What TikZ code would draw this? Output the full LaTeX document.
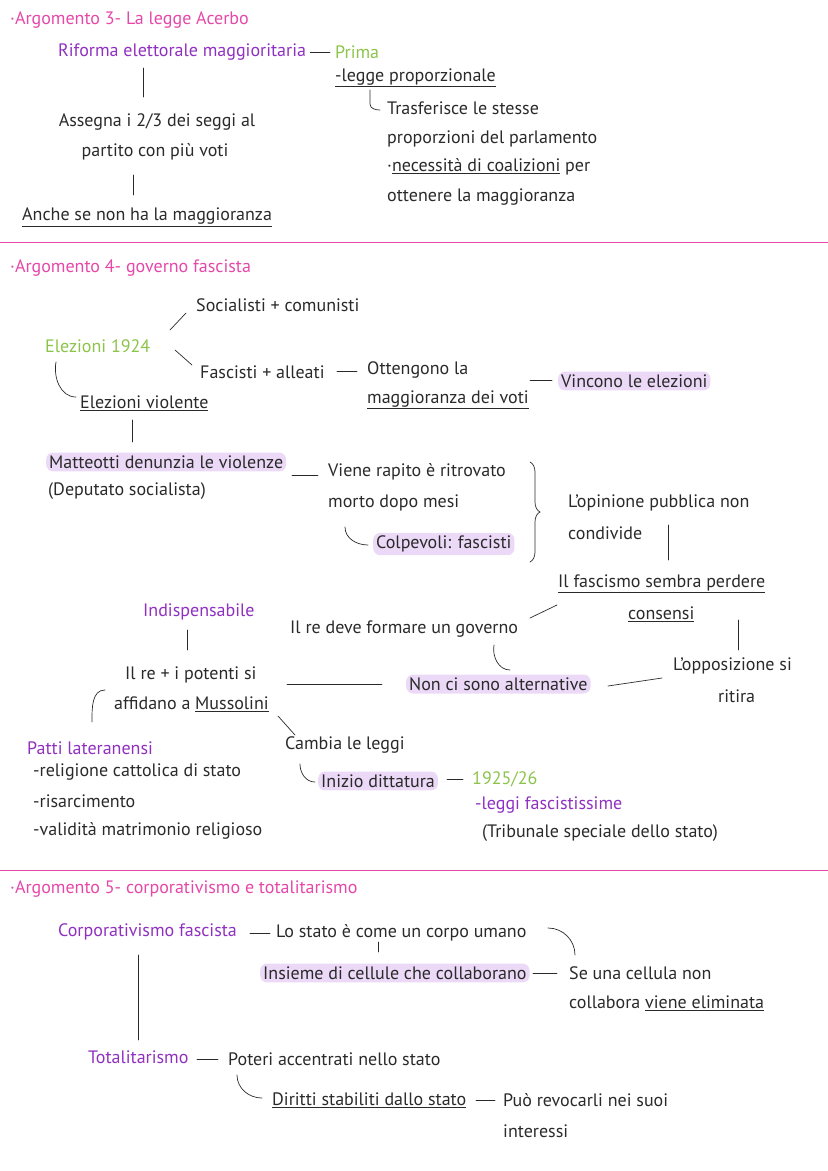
\documentclass[tikz,border=0pt]{standalone}
\usepackage{fontspec}
\setmainfont{PT Sans}
\usetikzlibrary{decorations.pathreplacing}
\definecolor{pk}{HTML}{E548A8}
\definecolor{pu}{HTML}{9030C0}
\definecolor{gr}{HTML}{8CC34A}
\definecolor{hl}{HTML}{EBD9F7}
\definecolor{ink}{HTML}{2A2A2A}
\begin{document}
\begin{tikzpicture}[x=1pt,y=-1pt,
  every node/.style={anchor=west,inner sep=0pt,font=\fontsize{18}{20}\selectfont,text=ink},
  hdr/.style={text=pk},
  pur/.style={text=pu},
  grn/.style={text=gr},
  hil/.style={fill=hl,inner xsep=3pt,inner ysep=3pt,rounded corners=7pt},
  ln/.style={draw=ink,line width=0.7pt,line cap=round},
  sep/.style={draw=pk,line width=0.8pt}]
\useasboundingbox (0,0) rectangle (828,1171);
% Section 1
\node[hdr] (h3) at (10,20) {·Argomento 3- La legge Acerbo};
\node[pur] (rif) at (58,52) {Riforma elettorale maggioritaria};
\node[grn] (prima) at (335,52) {Prima};
\draw[ln] ([xshift=4pt]rif.east) -- ([xshift=-5pt]prima.west);
\node (lp) at (335,78) {\underline{-legge proporzionale}};
\draw[ln] (370,90) -- (370,104) to[out=-90,in=180] (380,110);
\node (t1) at (387,108) {Trasferisce le stesse};
\node (t2) at (387,139) {proporzioni del parlamento};
\node (t3) at (387,167) {·\underline{necessità di coalizioni} per};
\node (t4) at (387,197) {ottenere la maggioranza};
\draw[ln] (143,68) -- (143,97);
\node[anchor=center] (as1) at (157,122) {Assegna i 2/3 dei seggi al};
\node[anchor=center] (as2) at (155,152) {partito con più voti};
\draw[ln] (133,175) -- (133,195);
\node (anc) at (22,217) {\underline{Anche se non ha la maggioranza}};
\draw[sep] (0,242) -- (828,242);
% Section 2
\node[hdr] (h4) at (10,268) {·Argomento 4- governo fascista};
\node (soc) at (196,305) {Socialisti + comunisti};
\node[grn] (el) at (45,346) {Elezioni 1924};
\draw[ln] (170,330) -- (186,313);
\draw[ln] (175,350) -- (192,365);
\node (fas) at (200,372) {Fascisti + alleati};
\node (ott1) at (367,370) {Ottengono la};
\draw[ln] (337,371) -- (357,371);
\node (ott2) at (367,400) {\underline{maggioranza dei voti}};
\node[hil] (vin) at (558,381) {Vincono le elezioni};
\draw[ln] (530,380) -- (552,380);
\draw[ln] (56,362) to[out=-100,in=180] (76,397);
\node (ev) at (80,403) {\underline{Elezioni violente}};
\draw[ln] (132,420) -- (132,442);
\node[hil] (mat) at (46,462) {Matteotti denunzia le violenze};
\node (dep) at (48,491) {(Deputato socialista)};
\draw[ln] (292,475) -- (318,475);
\node (vr1) at (328,472) {Viene rapito è ritrovato};
\node (vr2) at (328,503) {morto dopo mesi};
\draw[ln] (345,527) to[out=-90,in=180] (368,545);
\node[hil] (col) at (373,544) {Colpevoli: fascisti};
\draw[ln,decorate,decoration={brace,amplitude=10pt}] (530,462) -- (530,562);
\node (op1) at (568,503) {L’opinione pubblica non};
\node (op2) at (568,533) {condivide};
\draw[ln] (668,525) -- (668,560);
\node (fs1) at (558,584) {\underline{Il fascismo sembra perdere}};
\node (fs2) at (628,614) {\underline{consensi}};
\draw[ln] (738,620) -- (738,650);
\node (opp1) at (673,666) {L’opposizione si};
\node (opp2) at (718,696) {ritira};
\draw[ln] (608,686) -- (662,678);
\node[hil] (non) at (406,684) {Non ci sono alternative};
\node (re) at (290,629) {Il re deve formare un governo};
\draw[ln] (530,618) -- (557,605);
\draw[ln] (494,645) to[out=-100,in=180] (510,670);
\node[pur] (ind) at (143,612) {Indispensabile};
\draw[ln] (187,630) -- (187,650);
\node (rp1) at (125,675) {Il re + i potenti si};
\node (rp2) at (114,704) {affidano a \underline{Mussolini}};
\draw[ln] (287,684) -- (382,684);
\draw[ln] (105,690) to[out=180,in=90] (92,722);
\node[pur] (pat) at (27,748) {Patti lateranensi};
\node (p1) at (33,772) {-religione cattolica di stato};
\node (p2) at (33,801) {-risarcimento};
\node (p3) at (33,831) {-validità matrimonio religioso};
\draw[ln] (278,716) -- (295,735);
\node (cam) at (285,745) {Cambia le leggi};
\draw[ln] (300,764) to[out=-90,in=180] (315,782);
\node[hil] (ini) at (318,781) {Inizio dittatura};
\draw[ln] (447,779) -- (463,779);
\node[grn] (y25) at (472,779) {1925/26};
\node[pur] (lf) at (475,805) {-leggi fascistissime};
\node (trib) at (482,833) {(Tribunale speciale dello stato)};
\draw[sep] (0,870) -- (828,870);
% Section 3
\node[hdr] (h5) at (10,889) {·Argomento 5- corporativismo e totalitarismo};
\node[pur] (cor) at (58,932) {Corporativismo fascista};
\draw[ln] (250,933) -- (270,933);
\node (lo) at (276,933) {Lo stato è come un corpo umano};
\draw[ln] (548,928) to[out=0,in=90] (575,955);
\draw[ln] (378,942) -- (378,952);
\node[hil] (ins) at (260,973) {Insieme di cellule che collaborano};
\draw[ln] (533,973) -- (557,973);
\node (se1) at (569,973) {Se una cellula non};
\node (se2) at (569,1003) {collabora \underline{viene eliminata}};
\draw[ln] (138,955) -- (138,1040);
\node[pur] (tot) at (88,1057) {Totalitarismo};
\draw[ln] (197,1059) -- (218,1059);
\node (pot) at (228,1059) {Poteri accentrati nello stato};
\draw[ln] (237,1075) to[out=-90,in=180] (262,1098);
\node (dir) at (272,1100) {\underline{Diritti stabiliti dallo stato}};
\draw[ln] (476,1100) -- (495,1100);
\node (pu1) at (503,1100) {Può revocarli nei suoi};
\node (pu2) at (503,1131) {interessi};
\end{tikzpicture}
\end{document}
